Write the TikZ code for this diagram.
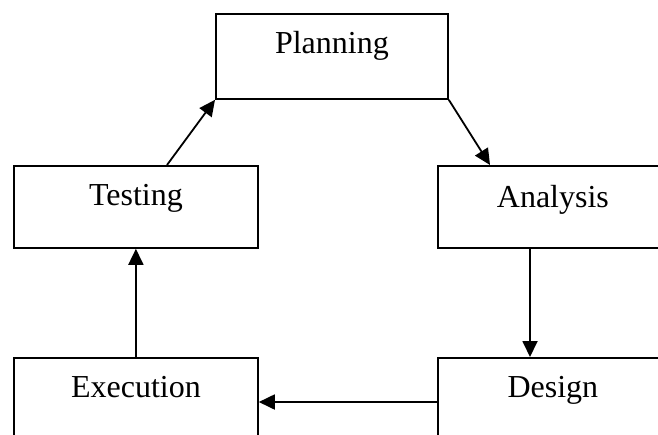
\documentclass[tikz,border=0pt]{standalone}
\usepackage{fontspec}
\setmainfont{Liberation Serif}
\usetikzlibrary{arrows.meta}

\begin{document}
\begin{tikzpicture}[x=1pt, y=-1pt,
  stage/.style={draw=black, line width=1.8pt, rectangle, inner sep=0pt,
    anchor=north west, align=center, text height=40pt,
    font=\fontsize{32}{38}\selectfont},
  flow/.style={draw=black, line width=1.8pt,
    -{Triangle[length=16pt, width=15pt]}}]
  \useasboundingbox (0,0) rectangle (658,434);
  \clip (0,0) rectangle (658,434);

  % process stages
  \node[stage, text width=232pt, text depth=45pt] (plan) at (215,13) {Planning};
  \node[stage, text width=244pt, text depth=42pt] (test) at (13,165) {Testing};
  \node[stage, text width=230pt, text depth=40pt, text height=42pt] (anal) at (437,165) {Analysis};
  \node[stage, text width=244pt, text depth=45pt] (exec) at (13,357) {Execution};
  \node[stage, text width=230pt, text depth=45pt] (des) at (437,357) {Design};

  % cycle connectors
  \draw[flow] ([xshift=154pt]test.north west) -- (plan.south west);
  \draw[flow] (plan.south east) -- ([xshift=53pt]anal.north west);
  \draw[flow] ([xshift=93pt]anal.south west) -- ([xshift=93pt]des.north west);
  \draw[flow] ([yshift=-45pt]des.north west) -- ([yshift=-45pt]exec.north east);
  \draw[flow] (exec.north) -- (test.south);
\end{tikzpicture}
\end{document}
